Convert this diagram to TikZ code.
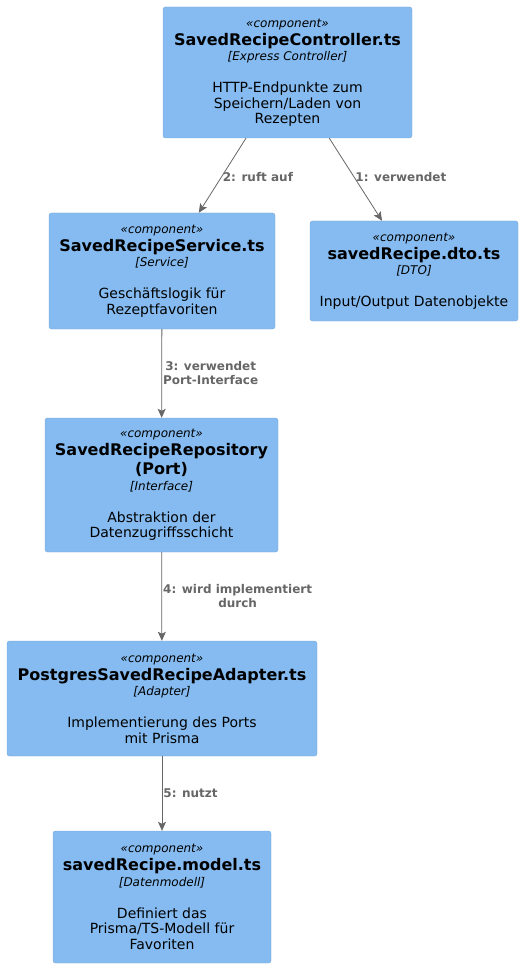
\documentclass[tikz,border=0pt]{standalone}
\usepackage{fontspec}
\setmainfont{DejaVu Sans}
\usetikzlibrary{arrows.meta,positioning}
\definecolor{compblue}{HTML}{85BBF0}
\definecolor{compborder}{HTML}{78A8D8}
\definecolor{linegray}{HTML}{666666}
\newcommand{\stereo}{\fontsize{12}{15.5}\selectfont\itshape}
\newcommand{\ttl}{\fontsize{16}{15.5}\selectfont\bfseries}
\newcommand{\tech}{\fontsize{12}{15.5}\selectfont\itshape}
\newcommand{\desc}{\fontsize{14}{15.5}\selectfont\upshape\mdseries}
\newcommand{\comp}[3]{\stereo «component»\\[2.5pt] \ttl #1\\ \tech [#2]\\[16.5pt] \desc #3}

\begin{document}
\begin{tikzpicture}[x=1pt, y=-1pt,
    compbox/.style = {rectangle, rounded corners=2.5pt, draw=compborder, fill=compblue, align=center, inner sep=0pt, font=\desc},
    conn/.style = {draw=linegray, line width=0.8pt, -{Stealth[length=9pt, width=8pt, inset=2pt]}},
    connlabel/.style = {text=linegray, font=\fontsize{12}{14}\selectfont\bfseries, align=center, anchor=west, inner sep=1pt},
    ]
        \useasboundingbox (0,0) rectangle (523,968);

        % Nodes
        \node[compbox, minimum width=249pt, minimum height=131pt] (ctrl) at (287.5,72.5)
            {\comp{SavedRecipeController.ts}{Express Controller}{HTTP-Endpunkte zum\\ \desc Speichern/Laden von\\ \desc Rezepten}};
        \node[compbox, minimum width=226pt, minimum height=116pt] (svc) at (162,271)
            {\comp{SavedRecipeService.ts}{Service}{Geschäftslogik für\\ \desc Rezeptfavoriten}};
        \node[compbox, minimum width=208pt, minimum height=100pt] (dto) at (414,271)
            {\comp{savedRecipe.dto.ts}{DTO}{Input/Output Datenobjekte}};
        \node[compbox, minimum width=233pt, minimum height=134pt] (repo) at (161.5,485)
            {\comp{SavedRecipeRepository\\[2.5pt] \ttl (Port)}{Interface}{Abstraktion der\\ \desc Datenzugriffsschicht}};
        \node[compbox, minimum width=310pt, minimum height=115pt] (adapter) at (162,698.5)
            {\comp{PostgresSavedRecipeAdapter.ts}{Adapter}{Implementierung des Ports\\ \desc mit Prisma}};
        \node[compbox, minimum width=218pt, minimum height=132pt] (model) at (162,897)
            {\comp{savedRecipe.model.ts}{Datenmodell}{Definiert das\\ \desc Prisma/TS-Modell für\\ \desc Favoriten}};

        % Draw
        \draw[conn] (ctrl) -- node[connlabel, pos=0.52] (lblcall) {2: ruft auf} (svc);
        \draw[conn] (ctrl) -- node[connlabel, pos=0.47] (lbluse) {1: verwendet} (dto);
        \draw[conn] (svc) -- node[connlabel] (lblport) {3: verwendet\\Port-Interface} (repo);
        \draw[conn] (repo) -- node[connlabel] (lblimpl) {4: wird implementiert\\durch} (adapter);
        \draw[conn] (adapter) -- node[connlabel] (lblnutzt) {5: nutzt} (model);
\end{tikzpicture}
\end{document}
